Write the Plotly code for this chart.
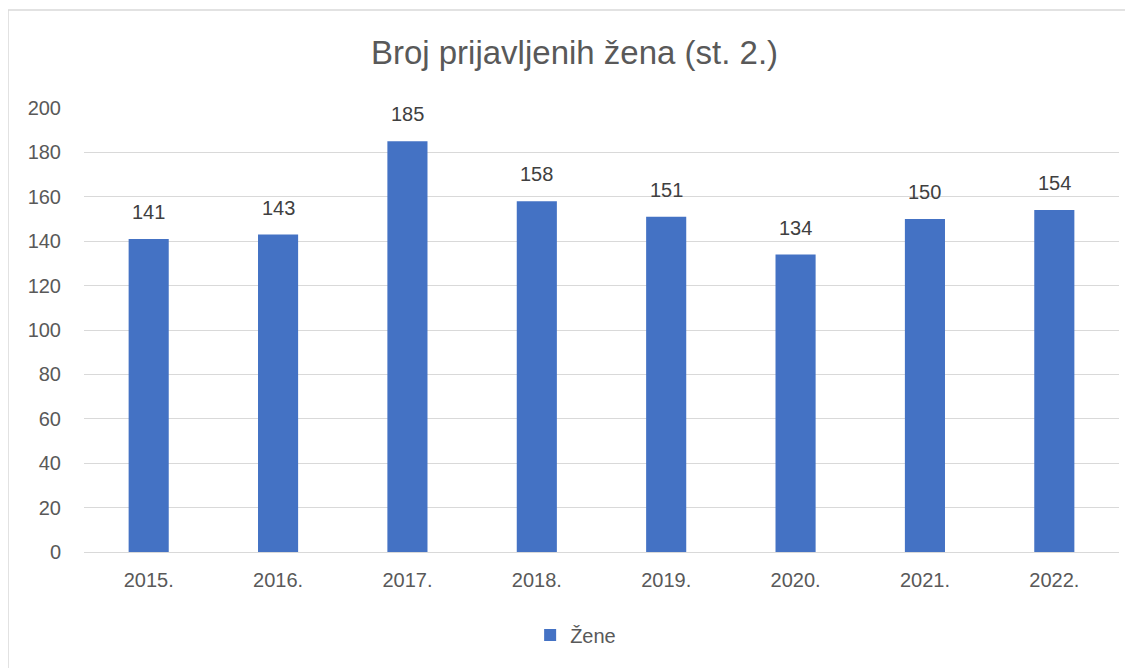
import plotly.graph_objects as go

years = ["2015.", "2016.", "2017.", "2018.", "2019.", "2020.", "2021.", "2022."]
zene = [141, 143, 185, 158, 151, 134, 150, 154]
title_text = "Broj prijavljenih žena (st. 2.)"
series_name = "Žene"

# page body adds an 8px offset; compensate
OFF = 8
W, H = 1133, 668
L = 84 - OFF
T = 108 - OFF
R = W - (1119 - OFF)
B = H - (552 - OFF)
pw = W - L - R
ph = H - T - B

fig = go.Figure()
fig.add_trace(go.Bar(
    x=years, y=zene, name=series_name,
    marker=dict(color="#4472C4", line=dict(width=0)),
    cliponaxis=False,
))

# data labels: category index positions on the category axis
for i, v in enumerate(zene):
    fig.add_annotation(x=i, y=v, xref="x", yref="y", text=str(v), showarrow=False,
                       yanchor="bottom", yshift=14,
                       font=dict(size=20, color="#404040"))

fig.update_layout(
    width=W, height=H,
    margin=dict(l=L, r=R, t=T, b=B),
    paper_bgcolor="white", plot_bgcolor="white",
    font=dict(family="Liberation Sans, Arial, sans-serif", color="#595959", size=20),
    title=dict(text=title_text, x=0.5, xanchor="center", xref="container",
               y=1 - (52 - OFF) / H, yanchor="middle",
               font=dict(size=33, color="#595959")),
    bargap=0.69,
    showlegend=True,
    legend=dict(orientation="h", x=0.501, xanchor="center", xref="container",
                y=1 - (635 - OFF) / H, yanchor="middle",
                yref="container", font=dict(size=20, color="#595959")),
    xaxis=dict(type="category", categoryorder="array", categoryarray=years,
               range=[-0.5, len(years) - 0.5],
               showgrid=False, showline=False, ticks="",
               tickfont=dict(size=20, color="#595959"), ticklabelstandoff=14),
    yaxis=dict(range=[0, 200], dtick=20, showgrid=True, gridcolor="#d9d9d9", gridwidth=1,
               zeroline=True, zerolinecolor="#d9d9d9", zerolinewidth=1,
               showline=False, ticks="", tickfont=dict(size=20, color="#595959"),
               ticklabelstandoff=22),
)

fig.add_shape(type="rect", xref="paper", yref="paper",
              x0=(8 - 84) / pw, x1=1.2, y0=-0.5, y1=(552 - 10) / ph,
              line=dict(color="#d9d9d9", width=1.5), fillcolor="rgba(0,0,0,0)", layer="below")

fig.write_html("out.html")
